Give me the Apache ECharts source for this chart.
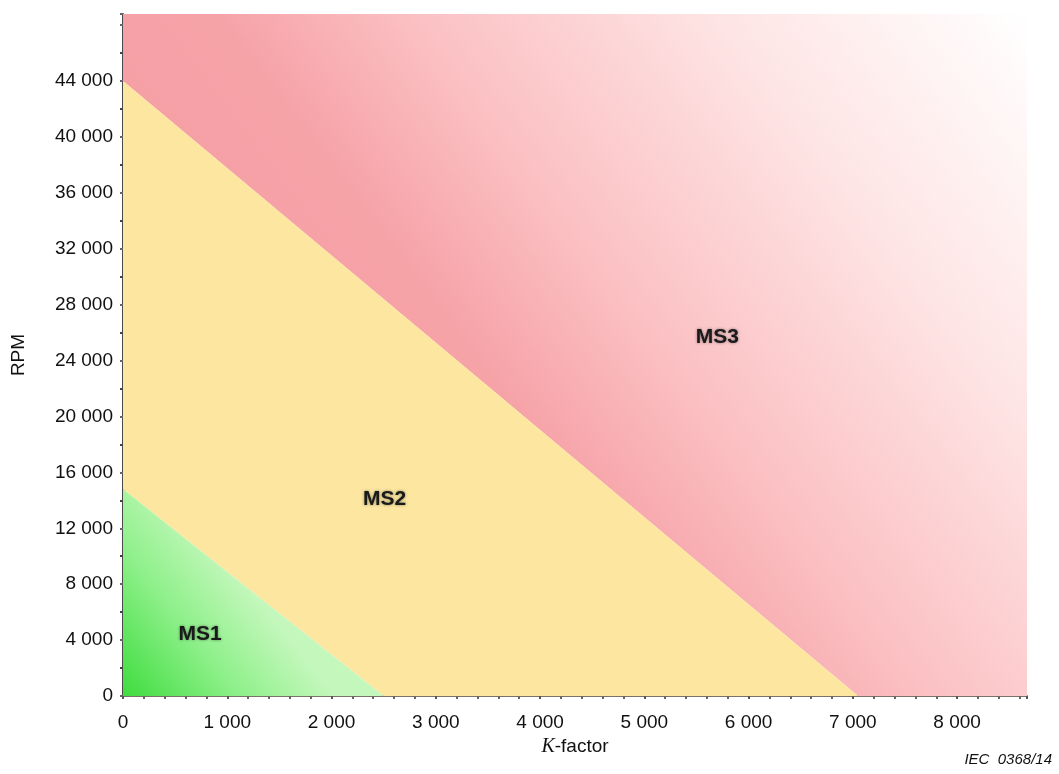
<!DOCTYPE html>
<html><head><meta charset="utf-8">
<script src="https://cdn.jsdelivr.net/npm/echarts@6/dist/echarts.min.js"></script>
<style>html,body{margin:0;padding:0;background:#fff}#c{width:1059px;height:774px}</style>
</head><body><div id="c"></div>
<script>
// Axis ranges (K-factor, RPM)
const xMax = 8670;
const yMax = 48800;
const xTickStep = 1000;
const yTickStep = 4000;
const yLastLabel = 44000;
// Region polygons [K-factor, RPM]
const ms1Polygon = [[0, 0], [0, 14800], [2500, 0]];
const ms2Polygon = [[0, 14800], [0, 44000], [7050, 0], [2500, 0]];
const ms3Polygon = [[0, 44000], [0, 48800], [8670, 48800], [8670, 0], [7050, 0]];
// Region labels
const regionNames = ['MS1', 'MS2', 'MS3'];
const regionLabelX = [740, 2510, 5700];
const regionLabelY = [4400, 14100, 25700];

function fmt(v){ return String(v).replace(/\B(?=(\d{3})+(?!\d))/g, ' '); }

function polySeries(poly, fill, z){
  return {
    type: 'custom', z: z, silent: true,
    data: [[0]],
    renderItem: function(params, api){
      const pts = poly.map(p => api.coord(p));
      return { type: 'polygon', shape: { points: pts }, style: { fill: fill } };
    }
  };
}

const chart = echarts.init(document.getElementById('c'), null, {renderer: 'canvas'});
const option = {
  animation: false,
  grid: { left: 123, top: 14, right: 32, bottom: 78 },
  xAxis: {
    type: 'value', min: 0, max: xMax, interval: xTickStep,
    name: '{k|K}-factor', nameLocation: 'middle', nameGap: 38,
    nameTextStyle: { fontFamily: 'Liberation Sans, Arial', fontSize: 19, color: '#111',
      rich: { k: { fontFamily: 'Liberation Serif, Times New Roman', fontStyle: 'italic', fontSize: 20, color: '#111' } } },
    axisLine: { show: true, onZero: false, lineStyle: { color: '#7d706a', width: 2 } },
    axisTick: { show: true, length: 3, lineStyle: { color: '#555', width: 2 } },
    minorTick: { show: true, splitNumber: 5, length: 3, lineStyle: { color: '#666', width: 2 } },
    splitLine: { show: false },
    axisLabel: { formatter: fmt, margin: 17, fontFamily: 'Liberation Sans, Arial', fontSize: 19, color: '#111', showMaxLabel: false }
  },
  yAxis: {
    type: 'value', min: 0, max: yMax, interval: yTickStep,
    name: 'RPM', nameLocation: 'middle', nameGap: 95, nameRotate: 90,
    nameTextStyle: { fontFamily: 'Liberation Sans, Arial', fontSize: 19, color: '#111' },
    axisLine: { show: true, onZero: false, lineStyle: { color: '#4a4a4a', width: 2 } },
    axisTick: { show: true, length: 3, lineStyle: { color: '#666', width: 2 } },
    minorTick: { show: true, splitNumber: 2, length: 3, lineStyle: { color: '#444', width: 2 } },
    splitLine: { show: false },
    axisLabel: { formatter: v => (v > yLastLabel ? '' : fmt(v)), margin: 10, fontFamily: 'Liberation Sans, Arial', fontSize: 19, color: '#111', showMaxLabel: false }
  },
  series: [
    polySeries(ms3Polygon, { type: 'linear', x: 0, y: 1, x2: 1, y2: 0,
      colorStops: [ { offset: 0, color: '#f3959c' }, { offset: 0.43, color: '#f6a3a8' }, { offset: 0.56, color: '#fbbfc2' }, { offset: 0.78, color: '#fee4e4' }, { offset: 1, color: '#ffffff' } ] }, 1),
    polySeries(ms2Polygon, '#fce6a0', 2),
    polySeries(ms1Polygon, { type: 'linear', x: 0, y: 1, x2: 0.5, y2: 0.5,
      colorStops: [ { offset: 0, color: '#3fdc3f' }, { offset: 0.55, color: '#8ef08a' }, { offset: 1, color: '#c4f7bc' } ] }, 3),
    {
      type: 'custom', z: 5, silent: true,
      data: regionNames.map((n, i) => [regionLabelX[i], regionLabelY[i], i]),
      renderItem: function(params, api){
        const p = api.coord([api.value(0), api.value(1)]);
        return { type: 'text', x: p[0], y: p[1], style: {
          text: regionNames[api.value(2)], fill: '#1a1a1a', align: 'center', verticalAlign: 'middle',
          font: 'bold 21px "Liberation Sans", Arial', textShadowColor: 'rgba(0,0,0,0.45)', textShadowBlur: 3 } };
      }
    }
  ],
  graphic: [
    { type: 'text', right: 7, top: 752, style: { text: 'IEC  0368/14', font: 'italic 15px "Liberation Sans", Arial', fill: '#111' } }
  ]
};
chart.setOption(option);
</script>
</body></html>
